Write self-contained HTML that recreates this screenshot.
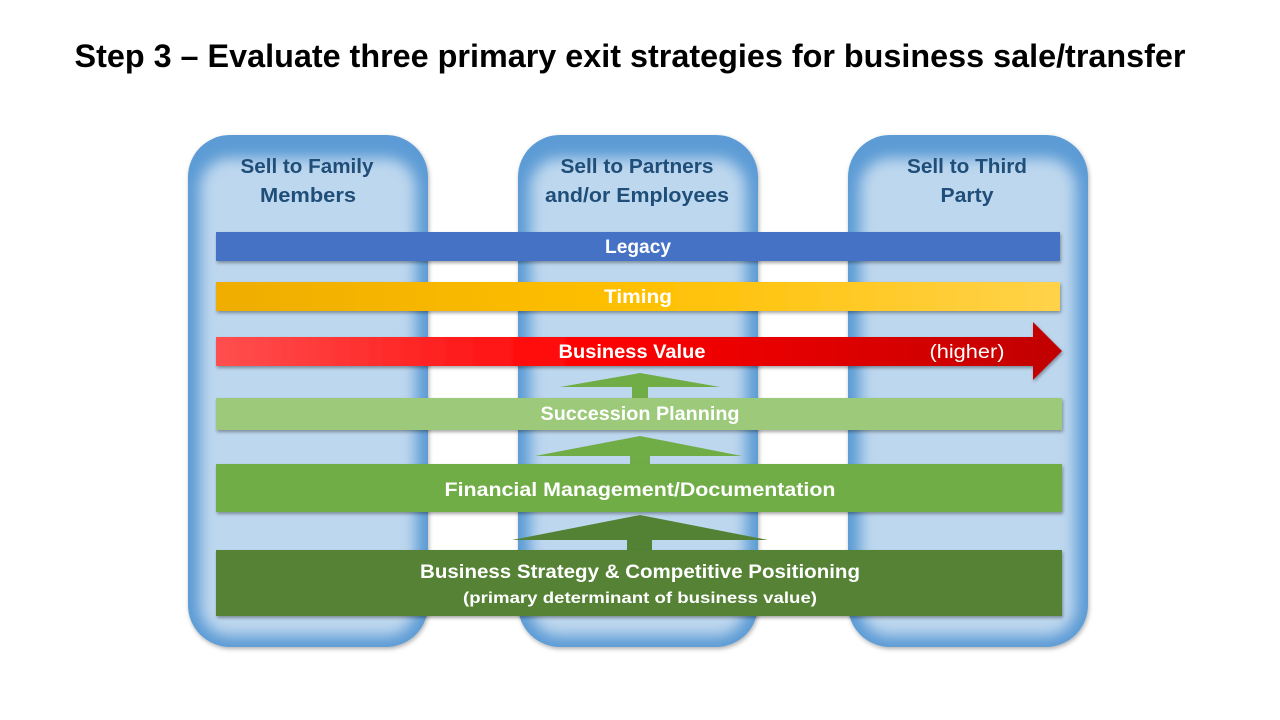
<!DOCTYPE html>
<html><head><meta charset="utf-8"><style>html,body{margin:0;padding:0;background:#fff}svg{display:block}</style></head>
<body>
<svg width="1280" height="720" viewBox="0 0 1280 720" xmlns="http://www.w3.org/2000/svg" font-family="Liberation Sans, sans-serif" font-weight="bold">
<defs>
<filter id="bl" x="-20%" y="-20%" width="140%" height="140%"><feGaussianBlur stdDeviation="7"/></filter>
<filter id="sh" x="-5%" y="-20%" width="110%" height="160%"><feDropShadow dx="1" dy="2" stdDeviation="1.5" flood-color="#000" flood-opacity="0.35"/></filter>
<filter id="csh" x="-10%" y="-10%" width="120%" height="120%"><feDropShadow dx="1" dy="2" stdDeviation="2" flood-color="#000" flood-opacity="0.3"/></filter>
<linearGradient id="tg" x1="0" x2="1"><stop offset="0" stop-color="#efad00"/><stop offset="0.5" stop-color="#ffc000"/><stop offset="1" stop-color="#ffd249"/></linearGradient>
<linearGradient id="rg" x1="0" x2="1"><stop offset="0" stop-color="#ff4f4f"/><stop offset="0.45" stop-color="#ff0000"/><stop offset="1" stop-color="#c00000"/></linearGradient>
<clipPath id="c1"><rect x="188" y="135" width="240" height="512" rx="42"/></clipPath>
<clipPath id="c2"><rect x="518" y="135" width="240" height="512" rx="42"/></clipPath>
<clipPath id="c3"><rect x="848" y="135" width="240" height="512" rx="42"/></clipPath>
</defs>
<text x="630" y="67" font-size="32" text-anchor="middle" textLength="1111" lengthAdjust="spacingAndGlyphs" fill="#000">Step 3 – Evaluate three primary exit strategies for business sale/transfer</text>

<g filter="url(#csh)"><rect x="188" y="135" width="240" height="512" rx="42" fill="#5b9bd5"/></g>
<g clip-path="url(#c1)"><rect x="200" y="158" width="216" height="478" rx="30" fill="#bdd7ee" filter="url(#bl)"/></g>
<g filter="url(#csh)"><rect x="518" y="135" width="240" height="512" rx="42" fill="#5b9bd5"/></g>
<g clip-path="url(#c2)"><rect x="530" y="158" width="216" height="478" rx="30" fill="#bdd7ee" filter="url(#bl)"/></g>
<g filter="url(#csh)"><rect x="848" y="135" width="240" height="512" rx="42" fill="#5b9bd5"/></g>
<g clip-path="url(#c3)"><rect x="860" y="158" width="216" height="478" rx="30" fill="#bdd7ee" filter="url(#bl)"/></g>

<g fill="#1f4e79" font-size="20" text-anchor="middle">
<text x="307" y="173" textLength="133" lengthAdjust="spacingAndGlyphs">Sell to Family</text>
<text x="308" y="202" textLength="96" lengthAdjust="spacingAndGlyphs">Members</text>
<text x="637" y="173" textLength="153" lengthAdjust="spacingAndGlyphs">Sell to Partners</text>
<text x="637" y="202" textLength="184" lengthAdjust="spacingAndGlyphs">and/or Employees</text>
<text x="967" y="173" textLength="120" lengthAdjust="spacingAndGlyphs">Sell to Third</text>
<text x="967" y="202" textLength="53" lengthAdjust="spacingAndGlyphs">Party</text>
</g>

<rect x="216" y="232" width="844" height="29" fill="#4472c4" filter="url(#sh)"/>
<rect x="216" y="282" width="844" height="29" fill="url(#tg)" filter="url(#sh)"/>
<polygon points="216,337 1033,337 1033,322 1062,351 1033,380 1033,366 216,366" fill="url(#rg)" filter="url(#sh)"/>

<polygon points="560,387 640,373 720,387 648,387 648,398 632,398 632,387" fill="#70ad47"/>
<rect x="216" y="398" width="846" height="32" fill="#9dc97a" filter="url(#sh)"/>
<polygon points="535,456 640,436 742,456 650,456 650,464 630,464 630,456" fill="#70ad47"/>
<rect x="216" y="464" width="846" height="48" fill="#70ad47" filter="url(#sh)"/>
<polygon points="512,540 640,515 768,540 652,540 652,550 627,550 627,540" fill="#548235"/>
<rect x="216" y="550" width="846" height="66" fill="#548235" filter="url(#sh)"/>

<g fill="#fff" text-anchor="middle">
<text x="638" y="253" font-size="19" textLength="66" lengthAdjust="spacingAndGlyphs">Legacy</text>
<text x="638" y="303" font-size="19" textLength="68" lengthAdjust="spacingAndGlyphs">Timing</text>
<text x="632" y="358" font-size="19" textLength="147" lengthAdjust="spacingAndGlyphs">Business Value</text>
<text x="967" y="358" font-size="19" font-weight="normal" textLength="75" lengthAdjust="spacingAndGlyphs">(higher)</text>
<text x="640" y="420" font-size="19" textLength="199" lengthAdjust="spacingAndGlyphs">Succession Planning</text>
<text x="640" y="496" font-size="19" textLength="391" lengthAdjust="spacingAndGlyphs">Financial Management/Documentation</text>
<text x="640" y="578" font-size="19" textLength="440" lengthAdjust="spacingAndGlyphs">Business Strategy &amp; Competitive Positioning</text>
<text x="640" y="603" font-size="16" textLength="354" lengthAdjust="spacingAndGlyphs">(primary determinant of business value)</text>
</g>
</svg>
</body></html>
